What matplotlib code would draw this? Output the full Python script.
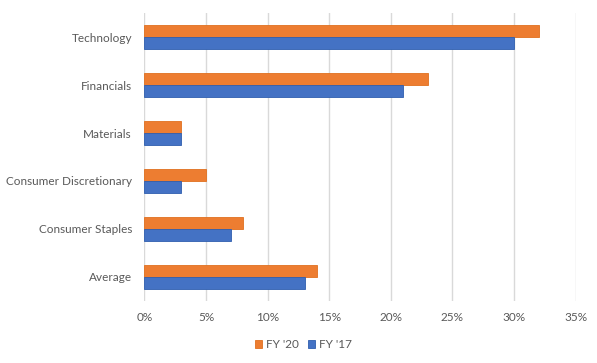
import matplotlib.pyplot as plt
import numpy as np
from matplotlib.ticker import FuncFormatter

categories = ['Technology', 'Financials', 'Materials', 'Consumer Discretionary',
              'Consumer Staples', 'Average']
fy20 = [32, 23, 3, 5, 8, 14]
fy17 = [30, 21, 3, 3, 7, 13]

plt.rcParams['font.family'] = ['Lato', 'DejaVu Sans']
text_col = '#595959'

fig = plt.figure(figsize=(5.97, 3.63), dpi=100)
ax = fig.add_axes([0.242, 0.171, 0.722, 0.793])

y = np.arange(len(categories))
h = 0.25
ax.barh(y - h / 2, fy20, height=h, color='#ED7D31', edgecolor='#E0701F',
        linewidth=0.6, label="FY '20", zorder=3)
ax.barh(y + h / 2, fy17, height=h, color='#4472C4', edgecolor='#2F5EAE',
        linewidth=0.6, label="FY '17", zorder=3)

ax.set_ylim(len(categories) - 0.5, -0.5)
ax.set_yticks(y)
ax.set_yticklabels(categories)
ax.set_xlim(0, 35)
ax.set_xticks(range(0, 36, 5))
ax.xaxis.set_major_formatter(FuncFormatter(lambda v, p: f'{v:.0f}%'))
ax.tick_params(axis='both', length=0, labelsize=8.5, colors=text_col)
ax.tick_params(axis='x', pad=8)
ax.tick_params(axis='y', pad=9)
ax.grid(axis='x', color='#D9D9D9', linewidth=1, zorder=0)
for s in ax.spines.values():
    s.set_visible(False)

fig.legend(loc='center', bbox_to_anchor=(0.508, 0.05), ncol=2,
           frameon=False, fontsize=8.5, handlelength=0.6, handleheight=0.6,
           handletextpad=0.3, columnspacing=0.8, labelcolor=text_col)

fig.savefig('out.png', dpi=100)
